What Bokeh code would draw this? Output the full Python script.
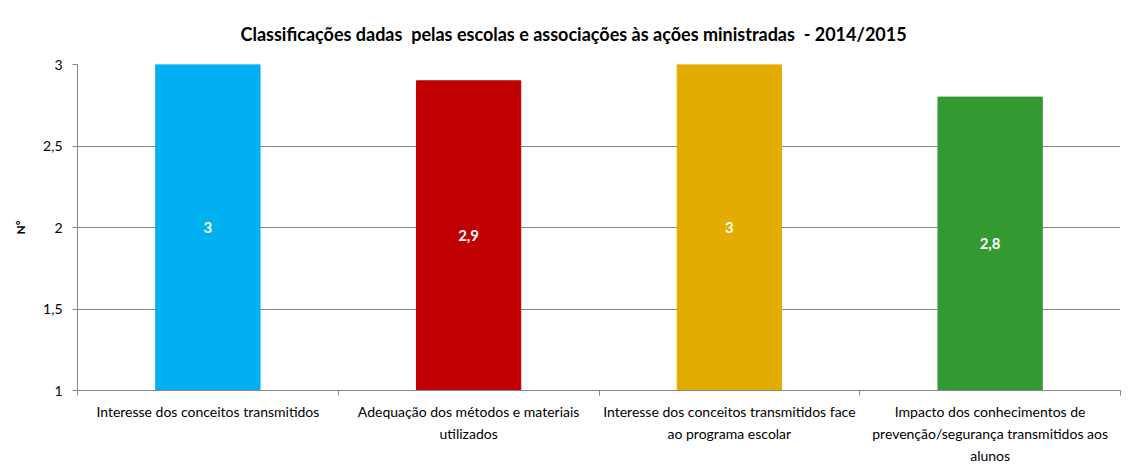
from bokeh.plotting import figure
from bokeh.models import Range1d, FixedTicker, ColumnDataSource, LabelSet
from bokeh.core.properties import value
from bokeh.embed import file_html
from bokeh.resources import INLINE

categories = [
    "Interesse dos conceitos transmitidos",
    "Adequação dos métodos e materiais\nutilizados",
    "Interesse dos conceitos transmitidos face\nao programa escolar",
    "Impacto dos conhecimentos de\nprevenção/segurança transmitidos aos\nalunos",
]
values = [3.0, 2.9, 3.0, 2.8]
colors = ["#00B0F0", "#C00000", "#E2AC00", "#339933"]
y_ticks = [1, 1.5, 2, 2.5, 3]
y_tick_labels = ["1", "1,5", "2", "2,5", "3"]
title_text = "Classificações dadas\u00a0 pelas escolas e associações às ações ministradas\u00a0 - 2014/2015"
y_label = "Nº"

FONT = "Lato"
GRAY = "#868686"

n = len(categories)
xs = [i + 0.5 for i in range(n)]
src = ColumnDataSource(dict(
    x=xs, top=values, color=colors,
    mid=[(1 + v) / 2 for v in values],
    lbl=[("%g" % v).replace(".", ",") for v in values],
))

p = figure(width=1126, height=466, output_backend="svg", toolbar_location=None,
           x_range=Range1d(0, n), y_range=Range1d(1, 3),
           min_border_left=77, min_border_top=64, min_border_right=6, min_border_bottom=76)
p.title.text = title_text
p.title.align = "left"
p.title.text_font = FONT
p.title.text_font_size = "18px"
p.title.text_font_style = "bold"
p.title.text_color = "#000000"
p.title.offset = 163
p.title.standoff = 40

p.outline_line_color = None
p.background_fill_color = "white"
p.border_fill_color = "white"

p.vbar(x="x", top="top", bottom=1, width=0.4, color="color", source=src)

labels = LabelSet(x="x", y="mid", text="lbl", source=src, text_color="white",
                  text_font=value(FONT), text_font_style="bold", text_font_size="15px",
                  text_align="center", text_baseline="middle")
p.add_layout(labels)

# x axis
p.xaxis.ticker = FixedTicker(ticks=xs, minor_ticks=list(range(n + 1)))
p.xaxis.major_label_overrides = {x: c for x, c in zip(xs, categories)}
p.xaxis.major_tick_out = 0
p.xaxis.major_tick_in = 0
p.xaxis.minor_tick_out = 5
p.xaxis.minor_tick_in = 0
p.xaxis.minor_tick_line_color = GRAY
p.xaxis.axis_line_color = GRAY
p.xaxis.major_label_text_font = FONT
p.xaxis.major_label_text_font_size = "14px"
p.xaxis.major_label_text_color = "#000000"
p.xaxis.major_label_standoff = 7
p.xaxis.major_label_text_line_height = 1.3
p.xgrid.visible = False

# y axis
p.yaxis.ticker = FixedTicker(ticks=y_ticks, minor_ticks=[])
p.yaxis.major_label_overrides = {t: l for t, l in zip(y_ticks, y_tick_labels)}
p.yaxis.major_tick_out = 5
p.yaxis.major_tick_in = 0
p.yaxis.major_tick_line_color = GRAY
p.yaxis.axis_line_color = GRAY
p.yaxis.major_label_text_font = FONT
p.yaxis.major_label_text_font_size = "14px"
p.yaxis.major_label_text_color = "#000000"
p.yaxis.major_label_standoff = 10
p.yaxis.axis_label = y_label
p.yaxis.axis_label_text_font = FONT
p.yaxis.axis_label_text_font_size = "12px"
p.yaxis.axis_label_text_font_style = "bold"
p.yaxis.axis_label_text_color = "#000000"
p.yaxis.axis_label_standoff = 12
p.ygrid.grid_line_color = GRAY
p.ygrid.grid_line_width = 1

open("out.html", "w").write(file_html(p, INLINE))
